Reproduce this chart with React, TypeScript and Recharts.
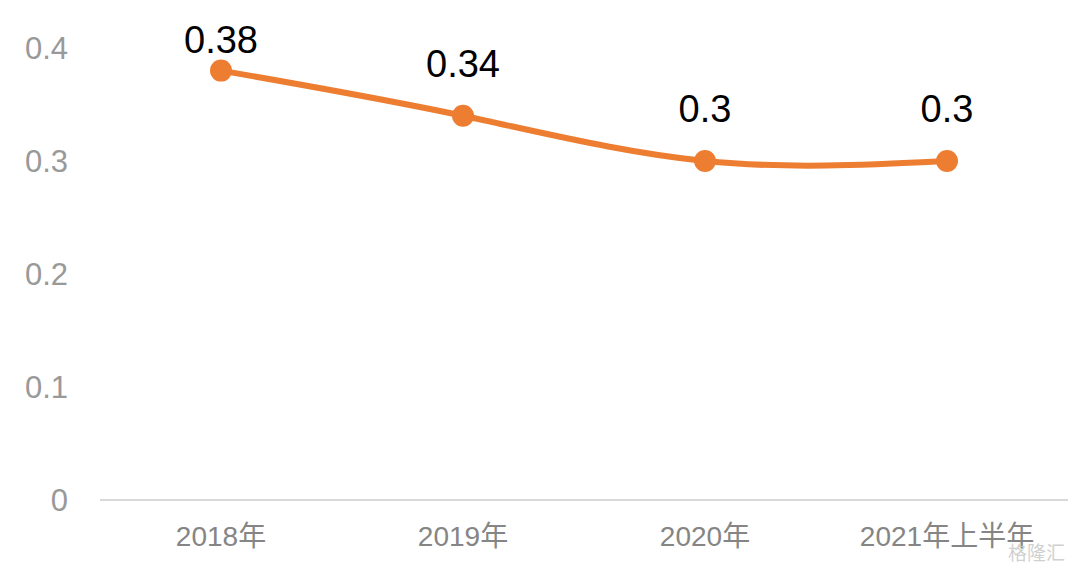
import React from "react";
import { LineChart, Line, XAxis, YAxis, LabelList } from "recharts";

const categories = ["2018年", "2019年", "2020年", "2021年上半年"];
const values = [0.38, 0.34, 0.3, 0.3];
const yTicks = [0, 0.1, 0.2, 0.3, 0.4];

const data = categories.map((name, i) => ({ name, value: values[i] }));

const FONT = "'Liberation Sans', 'Noto Sans CJK SC', sans-serif";

const ValueLabel = (props: any) => {
  const { x, y, value } = props;
  const cy = Math.max(y - 52, 40);
  return (
    <text
      x={x}
      y={cy}
      textAnchor="middle"
      dominantBaseline="central"
      fill="#000"
      fontSize={38}
      fontFamily={FONT}
    >
      {value}
    </text>
  );
};

export default function App() {
  return (
    <div style={{ position: "absolute", left: 0, top: 0, width: 1080, height: 568, background: "#fff" }}>
      <LineChart width={1080} height={568} data={data} margin={{ top: 48, right: 12, bottom: 0, left: 0 }}>
        <XAxis
          dataKey="name"
          axisLine={{ stroke: "#d9d9d9", strokeWidth: 2 }}
          tickLine={false}
          tickSize={0}
          tickMargin={26}
          height={68}
          padding={{ left: 121, right: 121 }}
          tick={{ fill: "#858585", fontSize: 28, fontFamily: FONT }}
          interval={0}
        />
        <YAxis
          domain={[0, 0.4]}
          ticks={yTicks}
          axisLine={false}
          tickLine={false}
          tickSize={0}
          tickMargin={32}
          width={100}
          tick={{ fill: "#999999", fontSize: 31, fontFamily: FONT }}
        />
        <Line
          type="natural"
          dataKey="value"
          stroke="#ED7D31"
          strokeWidth={6}
          dot={{ r: 11, fill: "#ED7D31", stroke: "none" }}
          isAnimationActive={false}
        >
          <LabelList dataKey="value" content={<ValueLabel />} />
        </Line>
      </LineChart>
      <div
        style={{
          position: "absolute",
          left: 1008,
          top: 541,
          fontSize: 19,
          lineHeight: "22px",
          color: "rgba(200,200,200,0.85)",
          fontFamily: "'Noto Sans CJK SC', sans-serif",
        }}
      >
        格隆汇
      </div>
    </div>
  );
}
